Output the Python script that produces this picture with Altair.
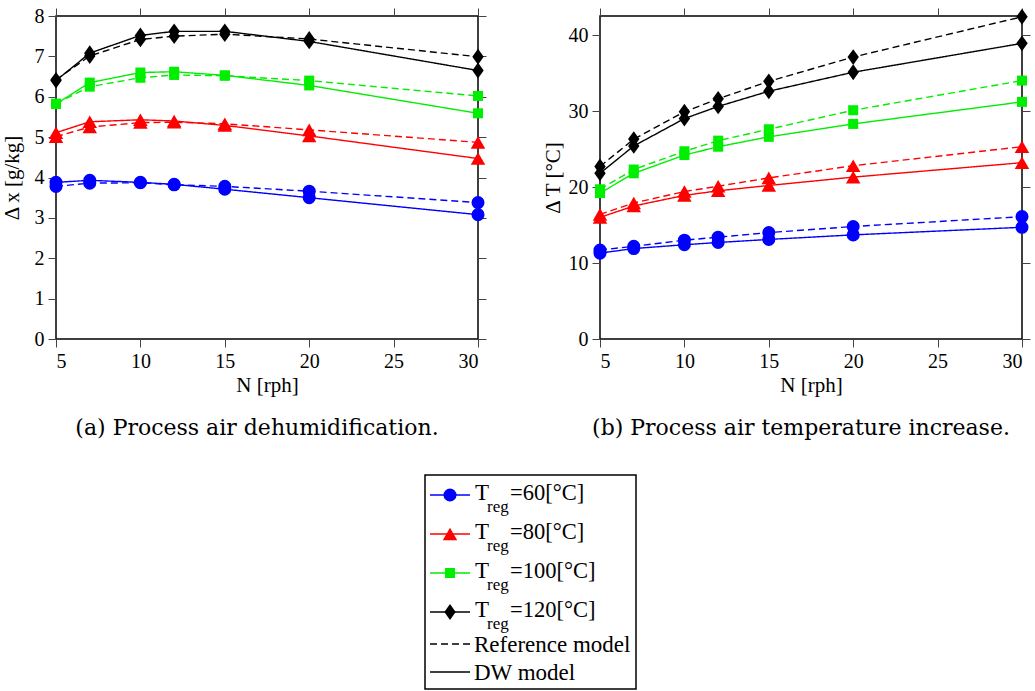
import altair as alt
import pandas as pd

# ---------------- data ----------------
N = [5, 7, 10, 12, 15, 20, 30]
series = ["60", "80", "100", "120"]

dx_dw = {
    "60": [3.88, 3.93, 3.88, 3.83, 3.71, 3.50, 3.08],
    "80": [5.11, 5.38, 5.43, 5.40, 5.29, 5.03, 4.47],
    "100": [5.82, 6.35, 6.60, 6.62, 6.53, 6.28, 5.59],
    "120": [6.40, 7.08, 7.52, 7.62, 7.62, 7.37, 6.65],
}
dx_ref = {
    "60": [3.78, 3.86, 3.87, 3.82, 3.78, 3.66, 3.38],
    "80": [5.01, 5.25, 5.36, 5.37, 5.33, 5.18, 4.87],
    "100": [5.83, 6.25, 6.47, 6.54, 6.52, 6.40, 6.02],
    "120": [6.42, 7.01, 7.42, 7.50, 7.55, 7.43, 6.99],
}
dT_dw = {
    "60": [11.3, 11.9, 12.4, 12.7, 13.1, 13.7, 14.7],
    "80": [16.0, 17.5, 18.9, 19.5, 20.2, 21.3, 23.2],
    "100": [19.2, 21.8, 24.2, 25.3, 26.6, 28.3, 31.2],
    "120": [21.8, 25.4, 29.0, 30.6, 32.6, 35.1, 38.9],
}
dT_ref = {
    "60": [11.7, 12.2, 13.0, 13.4, 14.0, 14.8, 16.1],
    "80": [16.4, 17.9, 19.4, 20.1, 21.2, 22.8, 25.3],
    "100": [19.7, 22.3, 24.7, 26.1, 27.6, 30.1, 34.0],
    "120": [22.7, 26.3, 29.9, 31.6, 33.9, 37.1, 42.4],
}

legend_labels = ["=60[°C]", "=80[°C]", "=100[°C]", "=120[°C]"]
model_labels = ["Reference model", "DW model"]

x_ticks = [5, 10, 15, 20, 25, 30]
dx_ticks = [0, 1, 2, 3, 4, 5, 6, 7, 8]
dT_ticks = [0, 10, 20, 30, 40]

# ---------------- styles ----------------
colors = ["#0000ff", "#ff0000", "#00ee00", "#000000"]
diamond = "M0,-1L0.72,0L0,1L-0.72,0Z"
shapes = ["circle", "triangle-up", "square", diamond]
sizes = [170, 210, 100, 250]
SERIF = "Liberation Serif"

color_scale = alt.Scale(domain=series, range=colors)
shape_scale = alt.Scale(domain=series, range=shapes)
size_scale = alt.Scale(type="ordinal", domain=series, range=sizes)
dash_scale = alt.Scale(domain=["Ref", "DW"], range=[[7, 4], [1, 0]])


def long_df(dw, ref):
    rows = []
    for s in series:
        for n, v in zip(N, ref[s]):
            rows.append({"N": n, "value": v, "series": s, "model": "Ref"})
        for n, v in zip(N, dw[s]):
            rows.append({"N": n, "value": v, "series": s, "model": "DW"})
    return pd.DataFrame(rows)


def panel(df, ydom, yticks, ytitle, ytitle_x, caption):
    base = alt.Chart(df)
    xs = alt.Scale(domain=[5, 30], nice=False, zero=False)
    ys = alt.Scale(domain=ydom, nice=False, zero=True)
    lines = base.mark_line(strokeWidth=1.4).encode(
        x=alt.X("N:Q", scale=xs, axis=alt.Axis(orient="top", values=x_ticks, labels=False,
                                                 title=None, grid=False)),
        y=alt.Y("value:Q", scale=ys, axis=alt.Axis(orient="right", values=yticks, labels=False,
                                                     title=None, grid=False)),
        color=alt.Color("series:N", scale=color_scale, legend=None),
        strokeDash=alt.StrokeDash("model:N", scale=dash_scale, legend=None),
        detail="model:N",
    )
    points = base.mark_point(filled=True, opacity=1, strokeWidth=0).encode(
        x=alt.X("N:Q", scale=xs, axis=alt.Axis(orient="bottom", values=x_ticks, title="N [rph]",
                                                 titleY=52, titleBaseline="alphabetic",
                                                 labelPadding=4)),
        y=alt.Y("value:Q", scale=ys, axis=alt.Axis(orient="left", values=yticks, title=ytitle,
                                                     titleX=ytitle_x, titleBaseline="alphabetic",
                                                     labelPadding=4)),
        color=alt.Color("series:N", scale=color_scale, legend=None),
        shape=alt.Shape("series:N", scale=shape_scale, legend=None),
        size=alt.Size("series:N", scale=size_scale, legend=None),
    )
    return alt.layer(lines, points).resolve_axis(x="independent", y="independent").properties(
        width=422, height=323,
        title=alt.TitleParams(caption, orient="bottom", anchor="middle", frame="group",
                              font="DejaVu Serif", fontSize=22, fontWeight="normal",
                              color="black", dx=-10, offset=23),
    )


left = panel(long_df(dx_dw, dx_ref), [0, 8], dx_ticks, "Δ x [g/kg]", -38,
             "(a) Process air dehumidification.")
right = panel(long_df(dT_dw, dT_ref), [0, 42.5], dT_ticks, "Δ T [°C]", -41,
              "(b) Process air temperature increase.")

# ---------------- custom legend ----------------
leg_rows = pd.DataFrame({
    "series": series,
    "label": legend_labels,
    "ypos": [20, 59, 98, 137],
})
model_rows = pd.DataFrame({"label": model_labels, "ypos": [169, 197],
                           "model": ["Ref", "DW"]})

LW, LH = 211, 214
ly = alt.Scale(domain=[0, LH], reverse=True)
lb = alt.Chart(leg_rows)
leg_lines = lb.mark_rule(strokeWidth=1.5).encode(
    x=alt.value(5), x2=alt.value(45),
    y=alt.Y("ypos:Q", scale=ly, axis=None),
    color=alt.Color("series:N", scale=color_scale, legend=None),
)
leg_pts = lb.mark_point(filled=True, opacity=1, strokeWidth=0).encode(
    x=alt.value(25),
    y=alt.Y("ypos:Q", scale=ly, axis=None),
    color=alt.Color("series:N", scale=color_scale, legend=None),
    shape=alt.Shape("series:N", scale=shape_scale, legend=None),
    size=alt.Size("series:N", scale=size_scale, legend=None),
)
leg_T = lb.mark_text(text="T", align="left", baseline="alphabetic", dy=5,
                     font=SERIF, fontSize=23, color="black").encode(
    x=alt.value(50), y=alt.Y("ypos:Q", scale=ly, axis=None))
leg_reg = lb.mark_text(text="reg", align="left", baseline="alphabetic", dy=17,
                       font=SERIF, fontSize=17, color="black").encode(
    x=alt.value(62), y=alt.Y("ypos:Q", scale=ly, axis=None))
leg_lab = lb.mark_text(align="left", baseline="alphabetic", dy=5,
                       font=SERIF, fontSize=22.5, color="black").encode(
    x=alt.value(85), y=alt.Y("ypos:Q", scale=ly, axis=None), text="label:N")
mb = alt.Chart(model_rows)
mod_lines = mb.mark_rule(strokeWidth=1.5, color="black").encode(
    x=alt.value(5), x2=alt.value(45),
    y=alt.Y("ypos:Q", scale=ly, axis=None),
    strokeDash=alt.StrokeDash("model:N", scale=dash_scale, legend=None),
)
mod_lab = mb.mark_text(align="left", baseline="alphabetic", dy=8,
                       font=SERIF, fontSize=23, color="black").encode(
    x=alt.value(49), y=alt.Y("ypos:Q", scale=ly, axis=None), text="label:N")

legend = alt.layer(leg_lines, leg_pts, leg_T, leg_reg, leg_lab, mod_lines, mod_lab).properties(
    width=LW, height=LH)

spacer = alt.Chart(pd.DataFrame({"v": [0]})).mark_point(opacity=0).encode(
    x=alt.value(0), y=alt.value(0)).properties(
    width=369, height=LH, view=alt.ViewBackground(strokeOpacity=0))

top = alt.hconcat(left, right, spacing=122, bounds="flush")
bottom = alt.hconcat(spacer, legend, spacing=0, bounds="flush")

chart = alt.vconcat(top, bottom, spacing=459, bounds="flush").properties(
    padding={"left": 0, "top": 5, "right": 1, "bottom": 1},
    background="white",
).configure_view(
    stroke="black", strokeWidth=1.5
).configure_axis(
    labelFont=SERIF, labelFontSize=20, labelColor="black",
    titleFont=SERIF, titleFontSize=21, titleFontWeight="normal", titleColor="black",
    tickColor="#444", tickSize=8, tickWidth=1, domain=False,
    gridColor="#aaaaaa", gridDash=[1, 3], gridWidth=1,
)

chart.save("out.html", embed_options={"renderer": "svg", "actions": False})
